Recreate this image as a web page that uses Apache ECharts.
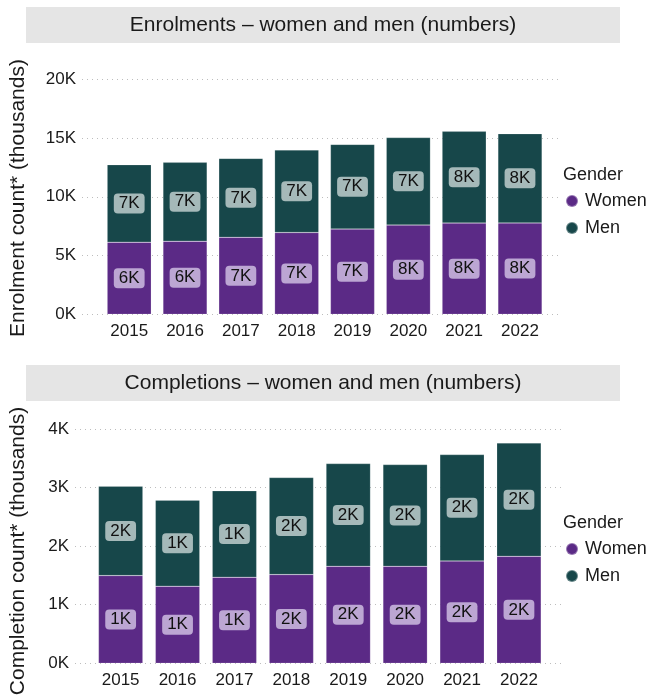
<!DOCTYPE html>
<html>
<head>
<meta charset="utf-8">
<script src="https://cdn.jsdelivr.net/npm/echarts@6/dist/echarts.min.js"></script>
<style>
  html, body { margin: 0; padding: 0; background: #fff; }
  #chart { width: 650px; height: 696px; }
</style>
</head>
<body>
<div id="chart"></div>
<script>
// values (raw counts)
const years = ["2015", "2016", "2017", "2018", "2019", "2020", "2021", "2022"];
const enrolWomen = [6140, 6220, 6550, 6960, 7250, 7590, 7760, 7780];
const enrolMen = [6590, 6710, 6720, 7020, 7210, 7450, 7810, 7590];
const compWomen = [1498, 1316, 1469, 1515, 1656, 1656, 1747, 1826];
const compMen = [1525, 1469, 1476, 1656, 1753, 1736, 1816, 1936];
const genders = ["Women", "Men"];

const FONT = "'Liberation Sans', Arial, sans-serif";
const PURPLE = "#5b2a86";
const TEAL = "#17474a";

const kFmt = (v) => Math.round(v / 1000) + "K";

function barLabel(bg) {
  return {
    show: true,
    position: "inside",
    formatter: (p) => kFmt(p.value),
    color: "#111",
    fontFamily: FONT,
    fontSize: 17,
    lineHeight: 17,
    backgroundColor: bg,
    borderRadius: 4,
    padding: [2, 5, 1, 5],
  };
}

function bars(name, data, color, labelBg, axis, width) {
  return {
    name,
    type: "bar",
    stack: "g" + axis,
    xAxisIndex: axis,
    yAxisIndex: axis,
    data,
    barWidth: width,
    itemStyle: { color, borderColor: "rgba(255,255,255,0.35)", borderWidth: 0.5 },
    label: barLabel(labelBg),
  };
}

function valueAxis(grid, max, step, show) {
  return {
    type: "value",
    gridIndex: grid,
    min: 0,
    max,
    interval: step,
    show,
    axisLine: { show: false },
    axisTick: { show: false },
    axisLabel: { formatter: kFmt, color: "#1a1a1a", fontFamily: FONT, fontSize: 17, margin: 6 },
    splitLine: { show: show, lineStyle: { color: "#bdbdbd", width: 1, type: [1, 4] } },
  };
}

function catAxis(grid) {
  return {
    type: "category",
    gridIndex: grid,
    data: years,
    axisLine: { show: false },
    axisTick: { show: false },
    axisLabel: { color: "#1a1a1a", fontFamily: FONT, fontSize: 17, margin: 9 },
  };
}

function strip(y, text) {
  return [
    { type: "rect", shape: { x: 26, y, width: 594, height: 36 }, style: { fill: "#e5e5e5" } },
    {
      type: "text", x: 323, y: y + 18,
      style: { text, fill: "#1a1a1a", font: "21px " + FONT, textAlign: "center", textVerticalAlign: "middle" },
    },
  ];
}

function yName(y, text) {
  return {
    type: "text", x: 18, y, rotation: Math.PI / 2,
    style: { text, fill: "#1a1a1a", font: "21px " + FONT, textAlign: "center", textVerticalAlign: "middle" },
  };
}

function legendTitle(y) {
  return {
    type: "text", x: 563, y,
    style: { text: "Gender", fill: "#1a1a1a", font: "18px " + FONT, textVerticalAlign: "middle" },
  };
}

function legend(top) {
  return {
    data: genders,
    orient: "vertical",
    left: 560,
    top,
    icon: "circle",
    itemWidth: 12,
    itemHeight: 12,
    itemGap: 9,
    selectedMode: false,
    textStyle: { color: "#1a1a1a", fontFamily: FONT, fontSize: 18, padding: [0, 0, 0, 2] },
  };
}

const chart = echarts.init(document.getElementById("chart"), null, { renderer: "canvas" });

chart.setOption({
  animation: false,
  grid: [
    { left: 82, top: 79.3, width: 480, height: 235 },
    { left: 101.3, top: 79.3, width: 446.6, height: 235 },
    { left: 75, top: 429, width: 488, height: 234.3 },
    { left: 92.2, top: 429, width: 455.2, height: 234.3 },
  ],
  xAxis: [
    { type: "value", gridIndex: 0, min: 0, max: 1, show: false },
    catAxis(1),
    { type: "value", gridIndex: 2, min: 0, max: 1, show: false },
    catAxis(3),
  ],
  yAxis: [
    valueAxis(0, 20000, 5000, true),
    valueAxis(1, 20000, 5000, false),
    valueAxis(2, 4000, 1000, true),
    valueAxis(3, 4000, 1000, false),
  ],
  legend: [legend(187), legend(535)],
  graphic: [
    ...strip(7, "Enrolments – women and men (numbers)"),
    ...strip(365, "Completions – women and men (numbers)"),
    yName(198, "Enrolment count* (thousands)"),
    yName(551, "Completion count* (thousands)"),
    legendTitle(175),
    legendTitle(523),
  ],
  series: [
    bars("Women", enrolWomen, PURPLE, "#bca6d3", 1, "79%"),
    bars("Men", enrolMen, TEAL, "#a5b9b9", 1, "79%"),
    bars("Women", compWomen, PURPLE, "#bca6d3", 3, "78%"),
    bars("Men", compMen, TEAL, "#a5b9b9", 3, "78%"),
  ],
});
</script>
</body>
</html>
